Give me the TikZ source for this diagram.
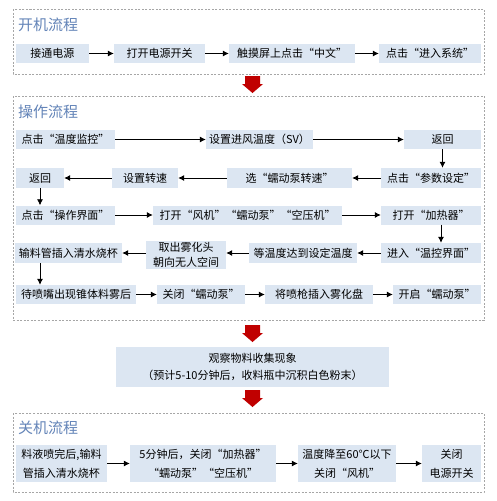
\documentclass[tikz,border=0pt]{standalone}
\usepackage{fontspec}
\setmainfont{Noto Sans CJK SC}
\usetikzlibrary{arrows.meta}
\definecolor{boxfill}{HTML}{DCE6F2}
\definecolor{titleblue}{HTML}{6384B8}
\definecolor{dashgray}{HTML}{A6A6A6}
\definecolor{bigred}{HTML}{C00000}
\tikzset{
  stepbox/.style={fill=boxfill, inner sep=0pt, minimum height=19pt, align=center, font=\fontsize{11}{17}\selectfont},
  section/.style={draw=dashgray, dash pattern=on 2pt off 1.5pt, line width=0.6pt},
  sectitle/.style={anchor=west, inner sep=0pt, text=titleblue, font=\fontsize{15}{18}\selectfont},
  conn/.style={-{Latex[length=6pt,width=6pt]}, line width=0.8pt, black},
  bigarrow/.style={fill=bigred, draw=none}
}
\newcommand{\redarrow}[1]{%
  \fill[bigarrow] (245,#1) -- (260,#1) -- (260,#1+8) -- (263,#1+8) -- (252.5,#1+17) -- (242,#1+8) -- (245,#1+8) -- cycle;}
\begin{document}
\begin{tikzpicture}[x=1pt,y=-1pt]
\useasboundingbox (0,0) rectangle (496,501);
\fill[white] (0,0) rectangle (496,501);
% section frames
\draw[section] (13,9) rectangle (484,74);
\draw[section] (13,96) rectangle (484,320);
\draw[section] (13,413) rectangle (484,492);
\node[sectitle] (t1) at (18,25) {开机流程};
\node[sectitle] (t2) at (18,112) {操作流程};
\node[sectitle] (t3) at (18,428) {关机流程};
% section 1
\node[stepbox, minimum width=73pt] (a1) at (52.5,53.5) {接通电源};
\node[stepbox, minimum width=91pt] (a2) at (159.5,53.5) {打开电源开关};
\node[stepbox, minimum width=126pt] (a3) at (292,53.5) {触摸屏上点击“中文”};
\node[stepbox, minimum width=102pt] (a4) at (430,53.5) {点击“进入系统”};
\draw[conn] (a1) -- (a2);
\draw[conn] (a2) -- (a3);
\draw[conn] (a3) -- (a4);
\redarrow{76}
% section 2
\node[stepbox, minimum width=99pt] (b1) at (65.5,139.5) {点击“温度监控”};
\node[stepbox, minimum width=107pt] (b2) at (259.5,139.5) {设置进风温度（SV）};
\node[stepbox, minimum width=77pt] (b3) at (442.5,139.5) {返回};
\node[stepbox, minimum width=48pt, minimum height=20pt] (b4) at (40,178) {返回};
\node[stepbox, minimum width=66pt, minimum height=20pt] (b5) at (145,178) {设置转速};
\node[stepbox, minimum width=125pt, minimum height=20pt] (b6) at (289.5,178) {选“蠕动泵转速”};
\node[stepbox, minimum width=100pt, minimum height=20pt] (b7) at (431,178) {点击“参数设定”};
\draw[conn] (b1) -- (b2);
\draw[conn] (b2) -- (b3);
\draw[conn] (b3.south) -- (b3.south |- b7.north);
\draw[conn] (b7) -- (b6);
\draw[conn] (b6) -- (b5);
\draw[conn] (b5) -- (b4);
\node[stepbox, minimum width=99pt] (c1) at (65.5,215) {点击“操作界面”};
\node[stepbox, minimum width=189pt] (c2) at (247.5,215) {打开“风机”“蠕动泵”“空压机”};
\node[stepbox, minimum width=100pt] (c3) at (431,215) {打开“加热器”};
\draw[conn] (b4.south) -- (b4.south |- c1.north);
\draw[conn] (c1) -- (c2);
\draw[conn] (c2) -- (c3);
\node[stepbox, minimum width=107pt, minimum height=20pt] (d1) at (68.5,253) {输料管插入清水烧杯};
\node[stepbox, minimum width=80pt, minimum height=28pt, font=\fontsize{11}{15}\selectfont] (d2) at (186,255) {取出雾化头\\朝向无人空间};
\node[stepbox, minimum width=108pt, minimum height=20pt] (d3) at (303,253) {等温度达到设定温度};
\node[stepbox, minimum width=100pt, minimum height=20pt] (d4) at (431,253) {进入“温控界面”};
\draw[conn] ([xshift=10pt]c3.south) -- ([xshift=10pt]c3.south |- d4.north);
\draw[conn] (d4) -- (d3);
\draw[conn] (d3.west) -- (d3.west -| d2.east);
\draw[conn] (d1.east -| d2.west) -- (d1.east);
\node[stepbox, minimum width=120pt] (e1) at (76,294.5) {待喷嘴出现锥体料雾后};
\node[stepbox, minimum width=88pt] (e2) at (201,294.5) {关闭“蠕动泵”};
\node[stepbox, minimum width=108pt] (e3) at (319,294.5) {将喷枪插入雾化盘};
\node[stepbox, minimum width=88pt] (e4) at (437,294.5) {开启“蠕动泵”};
\draw[conn] (d1.south -| b4) -- (e1.north -| b4);
\draw[conn] (e1) -- (e2);
\draw[conn] (e2) -- (e3);
\draw[conn] (e3) -- (e4);
\redarrow{325}
% middle
\node[stepbox, minimum width=273pt, minimum height=40pt] (f) at (252.5,367) {观察物料收集现象\\（预计5-10分钟后，收料瓶中沉积白色粉末）};
\redarrow{390}
% section 3
\node[stepbox, minimum width=91pt, minimum height=37pt, font=\fontsize{11}{19}\selectfont] (g1) at (61.5,463.5) {料液喷完后,输料\\管插入清水烧杯};
\node[stepbox, minimum width=146pt, minimum height=37pt, font=\fontsize{11}{19}\selectfont] (g2) at (203,463.5) {5分钟后，关闭“加热器”\\“蠕动泵”“空压机”};
\node[stepbox, minimum width=98pt, minimum height=37pt, font=\fontsize{11}{19}\selectfont] (g3) at (347,463.5) {温度降至60℃以下\\关闭“风机”};
\node[stepbox, minimum width=59pt, minimum height=37pt, font=\fontsize{11}{19}\selectfont] (g4) at (451.5,463.5) {关闭\\电源开关};
\draw[conn] (g1) -- (g2);
\draw[conn] (g2) -- (g3);
\draw[conn] (g3) -- (g4);
\end{tikzpicture}
\end{document}
